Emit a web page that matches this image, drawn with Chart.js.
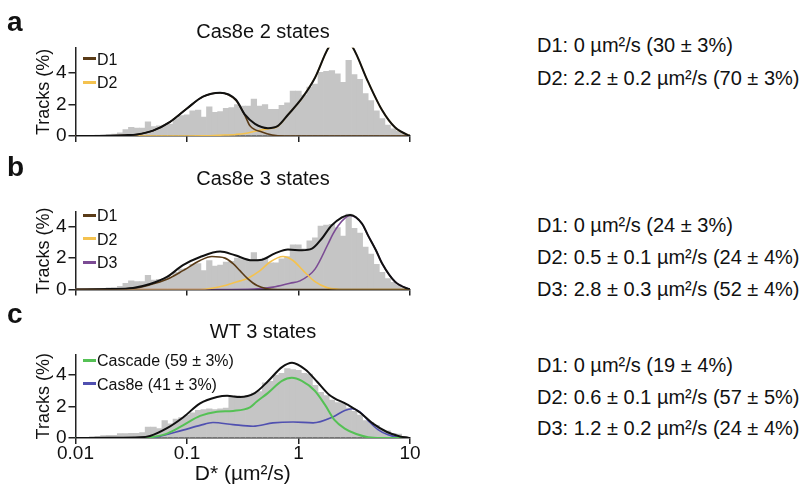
<!DOCTYPE html>
<html><head><meta charset="utf-8">
<script src="https://cdn.jsdelivr.net/npm/chart.js@4.4.1/dist/chart.umd.min.js"></script>
<style>
html,body{margin:0;padding:0;background:#fff;}
body{width:810px;height:485px;position:relative;overflow:hidden;font-family:'Liberation Sans',Arial,Helvetica,sans-serif;color:#111;}
canvas{position:absolute;left:0;top:0;}
.t{position:absolute;white-space:nowrap;line-height:1;}
.letter{font-weight:bold;font-size:28px;left:7px;}
.ptitle{font-size:20px;left:263px;transform:translateX(-50%);}
.leg{font-size:16px;left:83px;}
.leg i{display:inline-block;width:13px;height:3px;vertical-align:middle;margin-right:1px;position:relative;top:-1.5px;}
.res{font-size:20px;left:537px;}
</style></head>
<body>
<canvas id="ca" width="430" height="485"></canvas>
<canvas id="cb" width="430" height="485"></canvas>
<canvas id="cc" width="430" height="485"></canvas>

<div class="t letter" style="top:8px">a</div>
<div class="t letter" style="top:153px">b</div>
<div class="t letter" style="top:299.6px">c</div>

<div class="t ptitle" style="top:21px">Cas8e 2 states</div>
<div class="t ptitle" style="top:168px">Cas8e 3 states</div>
<div class="t ptitle" style="top:321px">WT 3 states</div>

<div class="t leg" style="top:51.5px"><i style="background:#5a3b17"></i>D1</div>
<div class="t leg" style="top:74.8px"><i style="background:#f4c24f"></i>D2</div>
<div class="t leg" style="top:208px"><i style="background:#5a3b17"></i>D1</div>
<div class="t leg" style="top:231.5px"><i style="background:#f4c24f"></i>D2</div>
<div class="t leg" style="top:254.8px"><i style="background:#7b4b94"></i>D3</div>
<div class="t leg" style="top:353px"><i style="background:#55c155"></i>Cascade (59 ± 3%)</div>
<div class="t leg" style="top:376.5px"><i style="background:#5050b0"></i>Cas8e (41 ± 3%)</div>

<div id="results"></div>

<script>
// ---------- data ----------
const xTickValues = [0.01, 0.1, 1, 10];
const xTickLabels = ['0.01', '0.1', '1', '10'];
const yTickValues = [0, 2, 4];
// 60 log-spaced histogram bins from 0.01 to 10 µm²/s
const binLabels = Array.from({length: 60}, (_, i) => 'bin' + i);

// Cas8e histogram (same data in panels a and b), Tracks (%)
const histCas8e = [0.04,0.04,0.05,0.05,0.06,0.08,0.1,0.12,
  0.2,0.4,0.55,0.5,0.5,0.9,0.6,0.65,
  0.7,0.75,1.1,1.3,1.35,1.6,1.65,1.2,
  1.85,1.5,1.55,1.75,1.8,2.0,1.9,1.9,
  2.35,1.9,2.0,1.7,1.7,1.95,2.1,2.85,
  2.85,2.6,3.1,3.3,4.05,4.1,4.15,3.95,
  3.4,4.8,3.9,3.6,2.7,2.25,1.6,1.1,
  0.7,0.45,0.3,0.12];
// WT histogram (panel c)
const histWT = [0.04,0.05,0.05,0.08,0.1,0.15,0.17,0.17,
  0.28,0.28,0.3,0.3,0.35,0.7,0.7,0.6,
  1.1,0.9,1.2,1.3,1.45,1.6,1.75,1.8,
  1.85,1.8,1.85,1.9,2.6,2.7,2.65,2.7,
  2.85,2.95,3.5,3.6,4.0,4.1,4.4,4.35,
  4.3,4.1,4.05,3.35,2.9,2.7,2.4,2.25,
  2.2,1.9,1.7,1.45,1.1,1.0,0.8,0.5,
  0.45,0.3,0.25,0.1];

// Panel a fits
const aFitD = [0.01,0.0204,0.0278,0.0356,0.0495,0.0705,0.1,0.139,0.198,0.275,0.331,0.407,0.532,0.654,0.805,1.074,1.406,1.84,2.36,3.08,4.2,5.61,7.33,9.6,10];
const aFitY = [0,0.02,0.05,0.1,0.34,0.9,1.75,2.5,2.75,2.3,1.35,0.77,0.5,0.64,1.35,2.4,3.7,5.55,6.4,5.6,3.45,1.65,0.55,0.06,0.03];
const aD1D = [0.01,0.0204,0.0278,0.0356,0.0495,0.0705,0.1,0.139,0.198,0.275,0.331,0.367,0.47,0.58,0.755,10];
const aD1Y = [0,0.02,0.05,0.1,0.34,0.9,1.75,2.5,2.75,2.25,1.3,0.65,0.25,0.06,0,0];
const aD2D = [0.01,0.1,0.139,0.198,0.275,0.331,0.407,0.47,0.532,0.654,0.805,1.074,1.406,1.84,2.36,3.08,4.2,5.61,7.33,9.6,10];
const aD2Y = [0,0,0.01,0.05,0.1,0.16,0.3,0.4,0.45,0.62,1.35,2.4,3.7,5.55,6.4,5.6,3.45,1.65,0.55,0.06,0.03];

// Panel b fits
const bFitD = [0.01,0.0204,0.0328,0.0466,0.0662,0.092,0.131,0.198,0.27,0.383,0.471,0.615,0.804,1.074,1.32,1.62,1.99,2.9,3.71,4.2,4.95,5.61,7.33,9.6,10];
const bFitY = [0,0.03,0.1,0.35,0.8,1.55,2.07,2.42,2.18,1.86,1.9,2.3,2.55,2.5,2.6,3.25,4.1,4.75,4.2,3.45,2.5,1.67,0.5,0.05,0.02];
const bD1D = [0.01,0.0328,0.0466,0.0662,0.092,0.131,0.1675,0.219,0.259,0.2985,0.352,0.425,0.521,0.65,10];
const bD1Y = [0,0.08,0.3,0.65,1.2,1.85,2.1,2.0,1.65,1.2,0.68,0.25,0.05,0,0];
const bD2D = [0.01,0.131,0.1675,0.219,0.259,0.2985,0.352,0.452,0.555,0.726,0.893,1.096,1.406,1.8,2.26,3,10];
const bD2Y = [0,0,0.08,0.25,0.42,0.55,0.72,1.2,1.75,2.1,1.85,1.22,0.5,0.12,0.02,0,0];
const bD3D = [0.01,0.2,0.4,0.59,0.839,1.03,1.406,1.84,2.04,2.26,2.61,2.9,3.71,4.2,4.95,5.61,7.33,9.6,10];
const bD3Y = [0,0,0.03,0.15,0.4,0.55,1.3,2.9,3.55,4.05,4.55,4.72,4.2,3.45,2.5,1.67,0.5,0.05,0.02];

// Panel c fits
const cFitD = [0.01,0.0204,0.0378,0.0466,0.0662,0.092,0.131,0.186,0.229,0.2985,0.405,0.532,0.711,0.875,1.15,1.47,1.88,2.72,3.56,4.66,6.22,8.13,9.6,10];
const cFitY = [0,0.01,0.04,0.13,0.62,1.3,2.2,2.6,2.68,2.6,2.85,3.6,4.5,4.78,4.35,3.57,2.75,2.13,1.62,0.91,0.38,0.1,0.02,0];
const cCascadeD = [0.01,0.04,0.0466,0.0662,0.092,0.131,0.186,0.259,0.367,0.42,0.53,0.711,0.87,1.07,1.4,1.73,2.1,2.6,3.3,4.2,5.5,10];
const cCascadeY = [0,0,0.04,0.28,0.8,1.4,1.66,1.72,1.95,2.3,2.85,3.62,3.82,3.62,3.0,2.1,1.15,0.6,0.25,0.05,0,0];
const cCas8eD = [0.01,0.045,0.05,0.092,0.131,0.171,0.259,0.391,0.59,0.893,1.35,2.037,2.6,3.02,3.56,4.2,5.16,6.35,8.3,10];
const cCas8eY = [0,0,0.02,0.5,0.8,0.98,0.85,0.75,0.96,1.02,0.96,1.34,1.75,1.86,1.65,1.12,0.53,0.2,0.02,0];

// Fit results text
const resultsA = ['D1: 0 µm²/s (30 ± 3%)', 'D2: 2.2 ± 0.2 µm²/s (70 ± 3%)'];
const resultsB = ['D1: 0 µm²/s (24 ± 3%)', 'D2: 0.5 ± 0.1 µm²/s (24 ± 4%)', 'D3: 2.8 ± 0.3 µm²/s (52 ± 4%)'];
const resultsC = ['D1: 0 µm²/s (19 ± 4%)', 'D2: 0.6 ± 0.1 µm²/s (57 ± 5%)', 'D3: 1.2 ± 0.2 µm²/s (24 ± 4%)'];

// ---------- text ----------
(function () {
  const host = document.getElementById('results');
  const groups = [[resultsA, 34.5, 33.3], [resultsB, 214.6, 32.2], [resultsC, 355.4, 31.3]];
  groups.forEach(([lines, top0, step]) => {
    lines.forEach((s, i) => {
      const d = document.createElement('div');
      d.className = 't res';
      d.style.top = (top0 + i * step) + 'px';
      d.textContent = s;
      host.appendChild(d);
    });
  });
})();

// ---------- charts ----------
Chart.defaults.font.family = "'Liberation Sans', Arial, Helvetica, sans-serif";
Chart.defaults.color = '#111';

function curve(d, y, color, w, order) {
  return {type: 'line', data: d.map((v, i) => ({x: v, y: y[i]})), xAxisID: 'x', yAxisID: 'y',
    borderColor: color, borderWidth: w, pointRadius: 0, fill: false,
    cubicInterpolationMode: 'monotone', order: order};
}

function makePanel(id, cfg) {
  const datasets = [{
    type: 'bar', data: cfg.hist, xAxisID: 'xb', yAxisID: 'y',
    backgroundColor: '#c5c5c5', borderWidth: 0, barThickness: 5.6, order: 10
  }].concat(cfg.curves);
  new Chart(document.getElementById(id), {
    data: {labels: binLabels, datasets: datasets},
    options: {
      responsive: false, animation: false, events: [],
      layout: {padding: {left: 0, right: 20, top: cfg.top, bottom: cfg.bottom}},
      plugins: {legend: {display: false}, tooltip: {enabled: false}, title: {display: false}},
      scales: {
        xb: {type: 'category', display: false, offset: true},
        x: {
          type: 'logarithmic', position: 'bottom', min: 0.01, max: 10,
          afterBuildTicks: s => { s.ticks = xTickValues.map(v => ({value: v})); },
          afterFit: s => { s.height = cfg.xh; },
          ticks: {display: cfg.showX, autoSkip: false, maxRotation: 0, padding: 0,
            font: {size: 19, lineHeight: 1}, color: '#111',
            callback: (v, i) => xTickLabels[i]},
          grid: {drawOnChartArea: false, drawTicks: true, tickLength: 6, color: '#222', lineWidth: 1.5},
          border: {display: true, color: '#222', width: 1.5},
          title: {display: cfg.showX, text: 'D* (µm²/s)', font: {size: 21, lineHeight: 1}, padding: 0, color: '#111'}
        },
        y: {
          type: 'linear', min: 0, max: cfg.ymax,
          afterBuildTicks: s => { s.ticks = yTickValues.map(v => ({value: v})); },
          afterFit: s => { s.width = 75.5; },
          ticks: {font: {size: 19}, padding: 2, color: '#111'},
          grid: {drawOnChartArea: false, drawTicks: true, tickLength: 7, color: '#222', lineWidth: 1.5},
          border: {display: true, color: '#222', width: 1.5},
          title: {display: true, text: 'Tracks (%)', font: {size: 18}, padding: {top: 33.2, bottom: 0}, color: '#111'}
        }
      }
    }
  });
}

makePanel('ca', {hist: histCas8e, ymax: 5.6, top: 47.8, bottom: 341, xh: 8, showX: false,
  curves: [curve(aD2D, aD2Y, '#f4c24f', 1.6, 2), curve(aD1D, aD1Y, '#5a3b17', 1.6, 1), curve(aFitD, aFitY, '#111', 2, 0)]});
makePanel('cb', {hist: histCas8e, ymax: 4.94, top: 212, bottom: 187.5, xh: 8, showX: false,
  curves: [curve(bD3D, bD3Y, '#7b4b94', 1.6, 3), curve(bD2D, bD2Y, '#f4c24f', 1.6, 2), curve(bD1D, bD1Y, '#5a3b17', 1.6, 1), curve(bFitD, bFitY, '#111', 2, 0)]});
makePanel('cc', {hist: histWT, ymax: 5.3, top: 354.5, bottom: 0, xh: 47, showX: true,
  curves: [curve(cCas8eD, cCas8eY, '#5050b0', 1.6, 2), curve(cCascadeD, cCascadeY, '#55c155', 2, 1), curve(cFitD, cFitY, '#111', 2, 0)]});
</script>
</body></html>
